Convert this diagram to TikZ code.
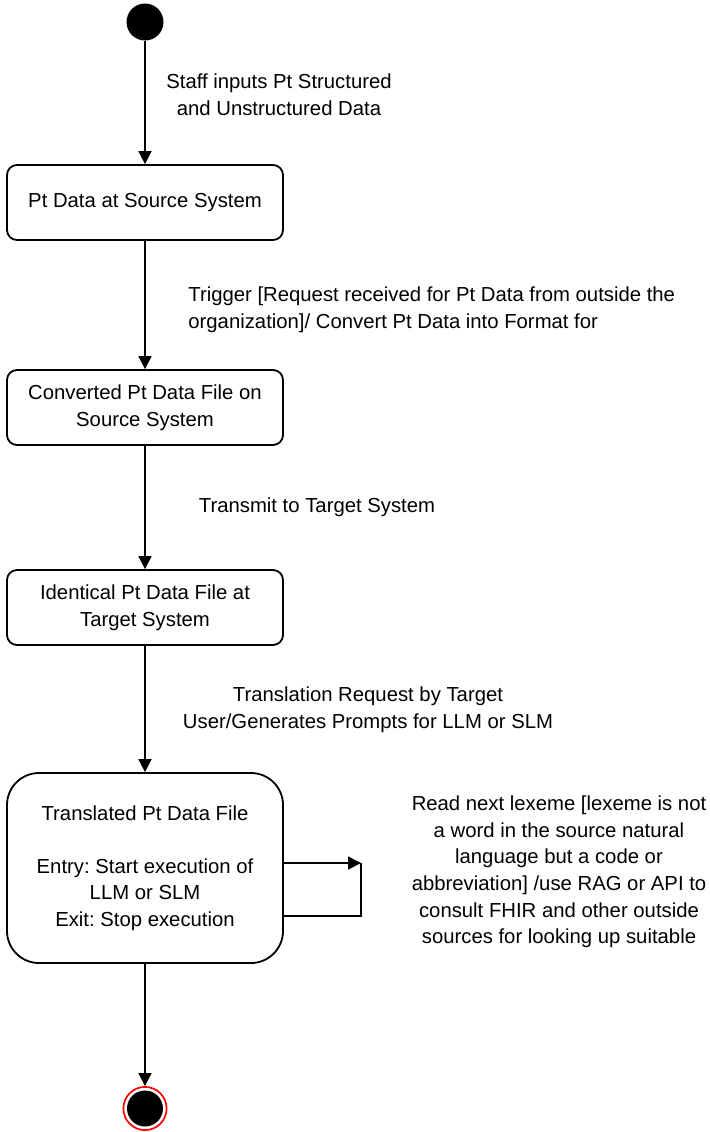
\documentclass[tikz,border=0pt]{standalone}
\usepackage{fontspec}
\setmainfont{Liberation Sans}
\frenchspacing
\usepackage{xcolor}
\definecolor{inkdark}{HTML}{000000}
\definecolor{endred}{HTML}{FF0000}
\usetikzlibrary{arrows.meta,positioning}
\tikzset{
  labelfont/.style={font=\fontsize{10.15}{13.3}\selectfont, text=inkdark},
  statebox/.style={labelfont, draw=inkdark, line width=0.9pt, rounded corners=5pt,
    minimum width=138pt, minimum height=37.5pt, align=center, inner sep=0pt},
  guardtext/.style={labelfont, align=center, inner sep=0pt},
  trans/.style={draw=inkdark, line width=0.9pt, -{Triangle[length=6.5pt,width=6.5pt]}},
  startdot/.style={circle, fill=inkdark, minimum size=18.5pt, inner sep=0pt},
  enddot/.style={circle, draw=endred, line width=0.85pt, fill=white, minimum size=21.6pt, inner sep=0pt,
    path picture={\fill[inkdark] (path picture bounding box.center) circle (9pt);}}
}

\begin{document}
\begin{tikzpicture}[x=0.5pt, y=-0.5pt]
        \useasboundingbox (0,0) rectangle (709,1132);
        \node[startdot] (start) at (145,22) {};
        \node[statebox] (srcdata) at (145,202.5) {Pt Data at Source System};
        \node[statebox] (convfile) at (145,407.5) {Converted Pt Data File on\\Source System};
        \node[statebox] (identfile) at (145,607.5) {Identical Pt Data File at\\Target System};
        \node[statebox, minimum height=95pt, rounded corners=16pt] (translfile) at (145,868)
          {Translated Pt Data File\\[13.3pt]Entry: Start execution of\\LLM or SLM\\Exit: Stop execution};
        \node[enddot] (final) at (145,1108.5) {};
        \draw[trans] (start) -- (srcdata);
        \draw[trans] (srcdata) -- (convfile);
        \draw[trans] (convfile) -- (identfile);
        \draw[trans] (identfile) -- (translfile);
        \draw[trans] (translfile) -- (final);
        \coordinate (looptop) at (361,863);
        \coordinate (loopbot) at (361,916);
        \draw[trans] (translfile.east |- looptop) -- (looptop);
        \draw[draw=inkdark, line width=0.9pt] (looptop) -- (loopbot) -- (translfile.east |- loopbot);
        \node[guardtext] (inputlbl) at (279,95) {Staff inputs Pt Structured\\and Unstructured Data};
        \node[guardtext, align=left, anchor=west] (triggerlbl) at (188,310)
          {Trigger [Request received for Pt Data from outside the\\organization]/ Convert Pt Data into Format for};
        \node[guardtext] (transmitlbl) at (317,507) {Transmit to Target System};
        \node[guardtext] (requestlbl) at (368,710) {Translation Request by Target\\User/Generates Prompts for LLM or SLM};
        \node[guardtext] (lexemelbl) at (559,872) {Read next lexeme [lexeme is not\\a word in the source natural\\language but a code or\\abbreviation] /use RAG or API to\\consult FHIR and other outside\\sources for looking up suitable};
      \end{tikzpicture}
\end{document}
